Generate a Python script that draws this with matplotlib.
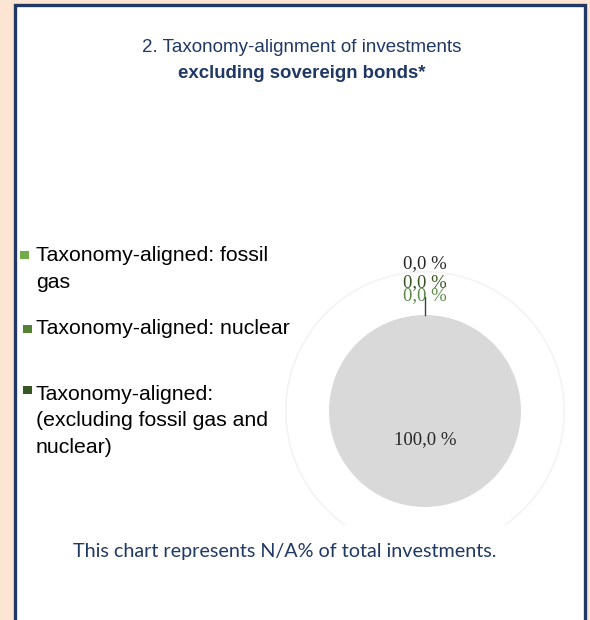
import numpy as np
import matplotlib
matplotlib.use('Agg')
import matplotlib.pyplot as plt
from matplotlib.patches import Rectangle, Arc

categories = ["Taxonomy-aligned: fossil\ngas",
              "Taxonomy-aligned: nuclear",
              "Taxonomy-aligned:\n(excluding fossil gas and\nnuclear)",
              "Other investments"]
values = [0.0, 0.0, 0.0, 100.0]
colors = ['#70ad47', '#548235', '#375623', '#d9d9d9']
label_colors = ['#262626', '#375623', '#5b8a4b']
title1 = "2. Taxonomy-alignment of investments"
title2 = "excluding sovereign bonds*"
footer = "This chart represents N/A% of total investments."

navy = '#1f3864'
W, H = 590, 620
fig = plt.figure(figsize=(W / 100, H / 100), dpi=100)
fig.patch.set_facecolor('#fde5d4')

# overlay in pixel coords, y downward
ov = fig.add_axes([0, 0, 1, 1])
ov.set_xlim(0, W)
ov.set_ylim(H, 0)
ov.axis('off')
ov.add_patch(Rectangle((15, 5), 570, 640, facecolor='white', edgecolor='#203864', lw=2.4))

ov.text(302, 48, title1, ha='center', va='center', fontsize=13.5, color=navy, family='Liberation Sans')
ov.text(302, 73, title2, ha='center', va='center', fontsize=13.4, color=navy, weight='bold', family='Liberation Sans')

leg_y = [269, 328, 421]
sq_y = [255, 329, 390]
sq_x = [20, 23, 23]
for lab, c, y, sy, sx in zip(categories[:3], colors[:3], leg_y, sq_y, sq_x):
    ov.add_patch(Rectangle((sx, sy - 4), 9, 8, facecolor=c, edgecolor='none'))
    ov.text(36, y, lab, ha='left', va='center', fontsize=15.3, color='black',
            family='Liberation Sans', linespacing=1.52)

fig.text(285 / W, 1 - 552 / H, footer, ha='center', va='center', fontsize=14.2, color=navy, family='Lato')

# pie
r = 96
cx, cy = 425, 411
ax = fig.add_axes([(cx - 1.5 * r) / W, (H - cy - 1.5 * r) / H, 3 * r / W, 3 * r / H])
wedges, _ = ax.pie(values, colors=colors, startangle=90, counterclock=False,
                   wedgeprops=dict(linewidth=0))
ax.set_xlim(-1.5, 1.5)
ax.set_ylim(-1.5, 1.5)
ax.set_aspect('equal')
ax.axis('off')
ax.add_patch(Arc((0, 0), 2.9, 2.9, theta1=-55, theta2=235, edgecolor='#f3f3f3', lw=1.2, zorder=0))

# label of the big slice
w = wedges[3]
mid = np.deg2rad((w.theta1 + w.theta2) / 2)
ax.text(0.3 * np.cos(mid), 0.3 * np.sin(mid), f"{values[3]:.1f} %".replace('.', ','),
        ha='center', va='center', fontsize=13.5, family='Liberation Serif', color='#262626')

# zero slices labelled above the pie (they overlap, as in the original)
offs = [1.54, 1.34, 1.20]
for i, (v, lc, o) in enumerate(zip(values[:3], label_colors, offs)):
    ang = np.deg2rad(wedges[i].theta1)
    ax.text(o * np.cos(ang), o * np.sin(ang), f"{v:.1f} %".replace('.', ','),
            ha='center', va='center', fontsize=13.5, family='Liberation Serif',
            color=lc, clip_on=False)
ang = np.deg2rad(wedges[0].theta1)
ax.plot([np.cos(ang), 1.19 * np.cos(ang)], [np.sin(ang), 1.19 * np.sin(ang)],
        color='#404040', lw=1, clip_on=False)

fig.savefig('out.png', dpi=100, facecolor=fig.get_facecolor())
